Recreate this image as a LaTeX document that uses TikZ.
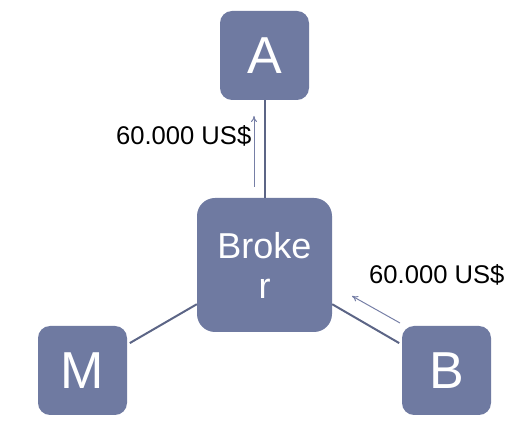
\documentclass[tikz,border=0pt]{standalone}
\usepackage{fontspec}
\setmainfont{Liberation Sans}
\usetikzlibrary{arrows.meta}
\definecolor{boxfill}{RGB}{111,122,161}
\definecolor{linkcol}{RGB}{92,101,134}
\definecolor{arrcol}{RGB}{118,127,166}
\begin{document}
\begin{tikzpicture}[x=1pt,y=-1pt,
  party/.style={fill=boxfill, rounded corners=12pt, minimum width=89pt, minimum height=89pt, inner sep=0pt, text=white, font=\fontsize{52}{56}\selectfont},
  hub/.style={fill=boxfill, rounded corners=18pt, minimum width=135pt, minimum height=134pt, inner sep=0pt, text=white, align=center, font=\fontsize{36}{40}\selectfont},
  link/.style={draw=linkcol, line width=2pt},
  flow/.style={draw=arrcol, line width=1pt, -{To[length=6pt,width=6pt]}},
  amount/.style={font=\fontsize{25.6}{30}\selectfont, inner sep=0pt}]
\useasboundingbox (0,0) rectangle (515,430);
\node[party] (A) at (264.5,55.5) {A};
\node[hub] (Br) at (264.5,265) {Broke\\r};
\node[party] (M) at (82.5,370.5) {M};
\node[party] (B) at (446.5,370.5) {B};
\draw[link] (A) -- (Br);
\draw[link, shorten >=3pt] (Br) -- (M);
\draw[link, shorten >=3pt] (Br) -- (B);
\coordinate (a1) at (254,187);
\coordinate (a2) at (254,116);
\coordinate (b1) at (400,323);
\coordinate (b2) at (352,296);
\draw[flow] (a1) -- (a2);
\draw[flow] (b1) -- (b2);
\node[amount, anchor=east] (la) at (251.5,136) {60.000 US\$};
\node[amount, anchor=west] (lb) at (369,275) {60.000 US\$};
\end{tikzpicture}
\end{document}
